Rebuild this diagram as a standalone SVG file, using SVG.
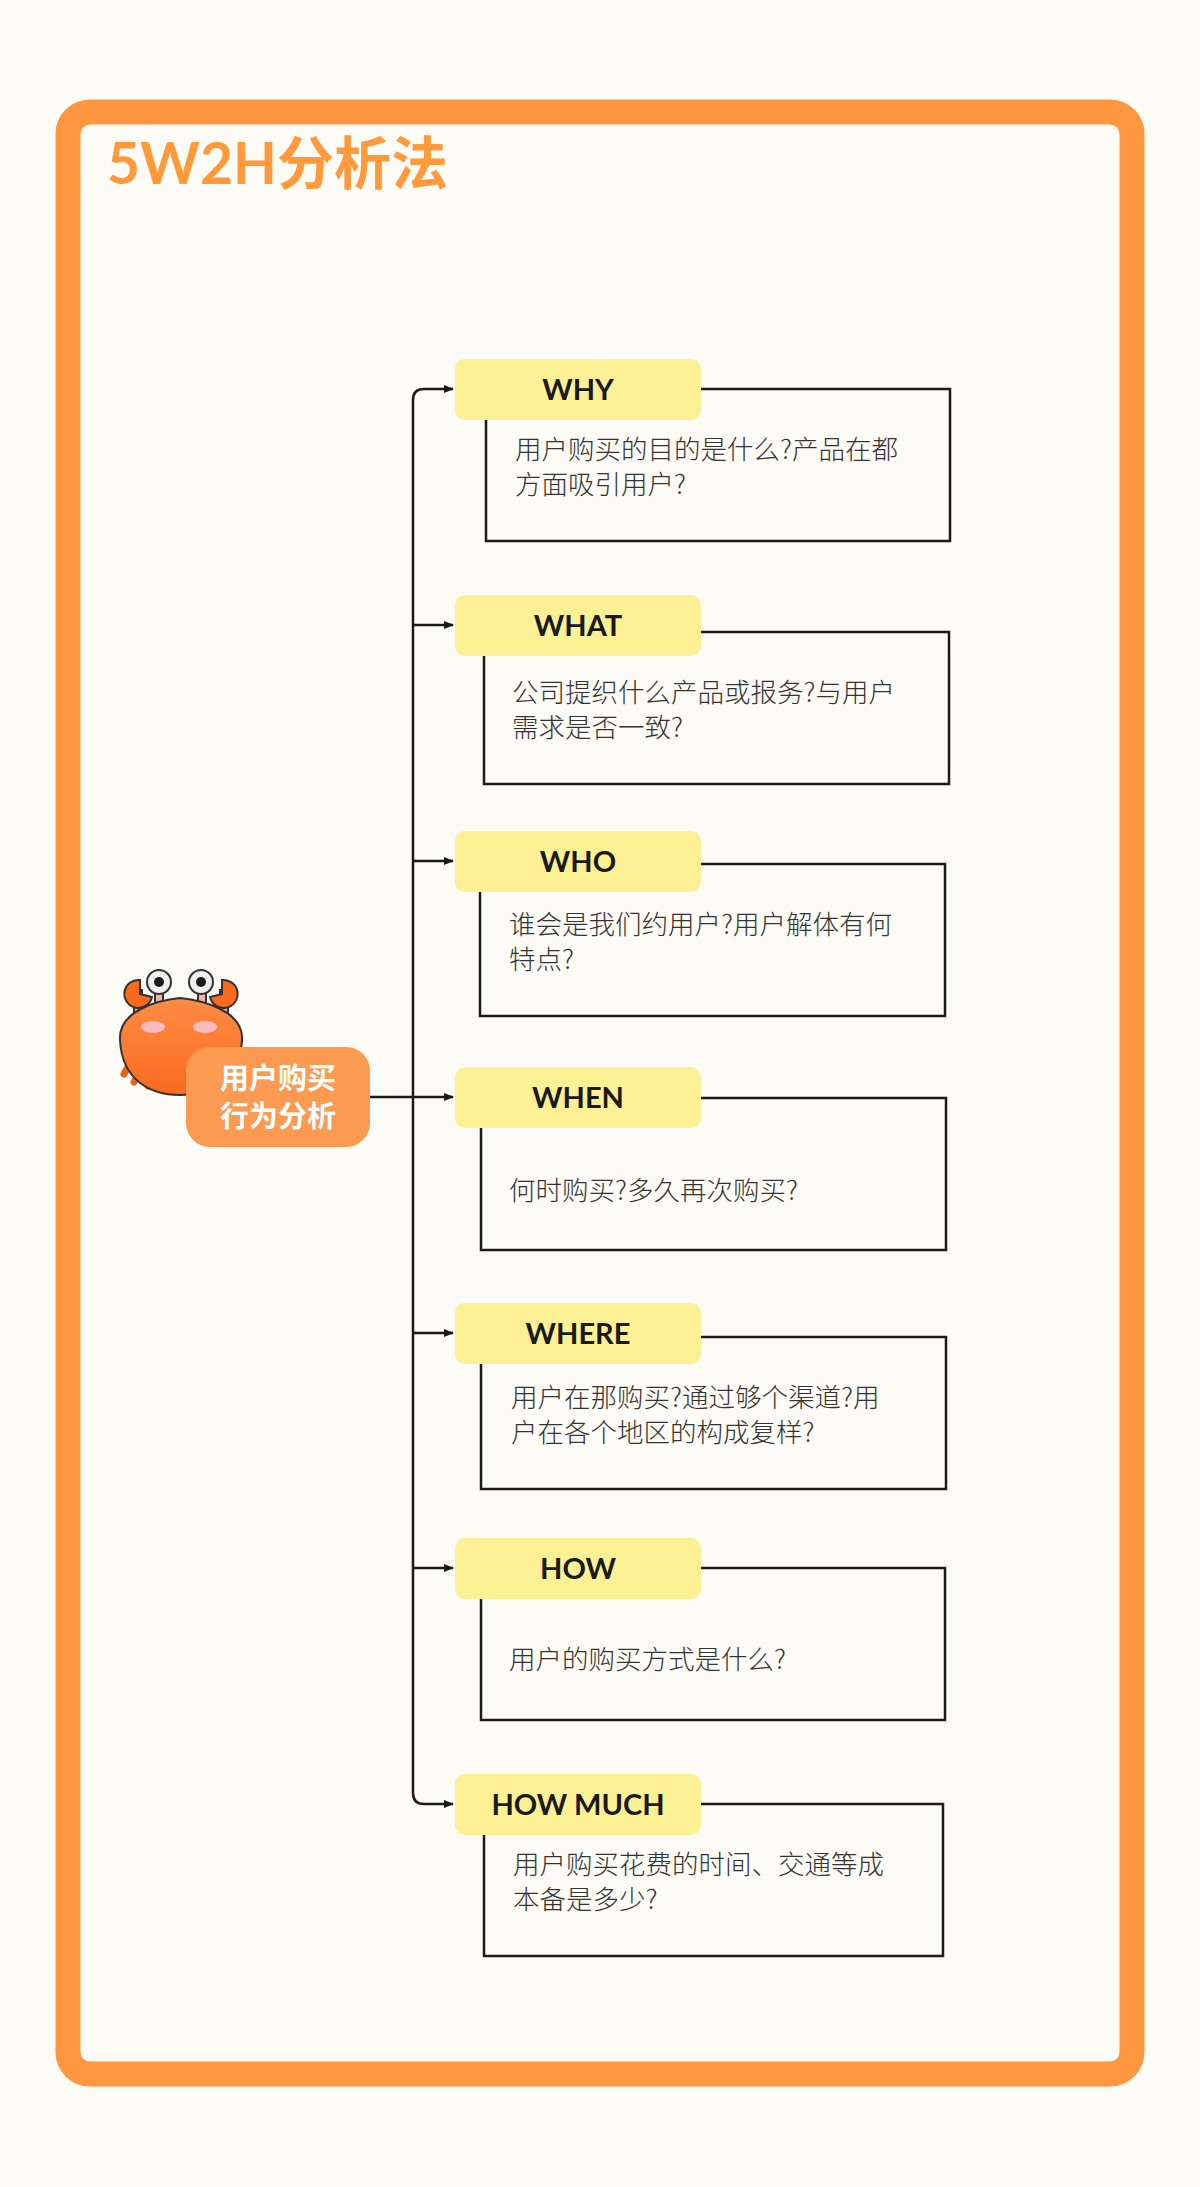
<svg xmlns="http://www.w3.org/2000/svg" width="1200" height="2187" viewBox="0 0 1200 2187">
<defs>
<marker id="ah" markerWidth="10" markerHeight="8" refX="9" refY="4" orient="auto" markerUnits="userSpaceOnUse"><path d="M0,0 L10,4 L0,8 z" fill="#1a1a1a"/></marker>
<linearGradient id="cg" x1="0" y1="0" x2="0" y2="1"><stop offset="0" stop-color="#FF8C45"/><stop offset="1" stop-color="#F96A1E"/></linearGradient>
</defs>
<style>
.lbl{fill:#FCF095}
.lt{font-family:"Lato","Liberation Sans",sans-serif;font-weight:bold;font-size:29px;fill:#1a1a1a;text-anchor:middle}
.box{fill:none;stroke:#1a1a1a;stroke-width:2.5}
.tx{font-family:"Noto Sans CJK SC","Noto Sans",sans-serif;font-size:26.5px;font-weight:300;fill:#333}
.cn{fill:none;stroke:#1a1a1a;stroke-width:2.5}
</style>
<rect width="1200" height="2187" fill="#FDFBF5"/>
<rect x="68" y="112" width="1064" height="1962" rx="22" fill="#FDFBF5" stroke="#FF9640" stroke-width="25"/>
<text x="107" y="184" font-family="Lato,'Noto Sans CJK SC',sans-serif" font-weight="bold" font-size="57" fill="#FF9A3C">5W2H分析法</text>
<g id="connectors">
<path class="cn" d="M370,1097 H413"/>
<path class="cn" d="M413,400 Q413,389 424,389 H453" marker-end="url(#ah)"/>
<path class="cn" d="M413,400 V1793"/>
<path class="cn" d="M413,1793 Q413,1804 424,1804 H453" marker-end="url(#ah)"/>
<path class="cn" d="M413,625 H453" marker-end="url(#ah)"/>
<path class="cn" d="M413,861 H453" marker-end="url(#ah)"/>
<path class="cn" d="M413,1097 H453" marker-end="url(#ah)"/>
<path class="cn" d="M413,1333 H453" marker-end="url(#ah)"/>
<path class="cn" d="M413,1568 H453" marker-end="url(#ah)"/>
</g>
<g id="crab" stroke="#333" stroke-width="2">
<path d="M132,1060 l-8,14 M142,1068 l-8,14 M154,1072 l-6,14" stroke="#E8641A" stroke-width="7" stroke-linecap="round"/>
<rect x="134" y="990" width="8" height="30" fill="#F4B5A4"/>
<rect x="220" y="990" width="8" height="30" fill="#F4B5A4"/>
<rect x="155" y="985" width="8" height="22" fill="#F4B5A4"/>
<rect x="198" y="985" width="8" height="22" fill="#F4B5A4"/>
<path d="M140,980 a14,14 0 1 0 12,17 l-12,-3 z" fill="#F96A1E"/>
<path d="M222,980 a14,14 0 1 1 -12,17 l12,-3 z" fill="#F96A1E"/>
<path d="M120,1040 C118,1010 160,1000 180,998 C200,1000 244,1010 242,1040 C240,1080 210,1095 180,1095 C150,1095 122,1080 120,1040 z" fill="url(#cg)"/>
<ellipse cx="153" cy="1027" rx="12" ry="6" fill="#FBBBC0" stroke="none"/>
<ellipse cx="205" cy="1027" rx="12" ry="6" fill="#FBBBC0" stroke="none"/>
<circle cx="159" cy="982" r="12" fill="#eee"/><circle cx="159" cy="982" r="5" fill="#1a1a1a" stroke="none"/>
<circle cx="201" cy="982" r="12" fill="#eee"/><circle cx="201" cy="982" r="5" fill="#1a1a1a" stroke="none"/>
</g>
<g id="center">
<rect x="186" y="1047" width="184" height="100" rx="24" fill="#FB9A50"/>
<text x="278" y="1089" font-family="'Noto Sans CJK SC',sans-serif" font-weight="bold" font-size="29" fill="#fff" text-anchor="middle">用户购买</text>
<text x="278" y="1127" font-family="'Noto Sans CJK SC',sans-serif" font-weight="bold" font-size="29" fill="#fff" text-anchor="middle">行为分析</text>
</g>
<g id="why"><rect class="box" x="486" y="389" width="464" height="152"/><rect class="lbl" x="455" y="359" width="246" height="61" rx="10"/><text class="lt" x="578" y="400">WHY</text><text class="tx" x="515" y="459">用户购买的目的是什么?产品在都</text><text class="tx" x="515" y="494">方面吸引用户?</text></g>
<g id="what"><rect class="box" x="484" y="632" width="465" height="152"/><rect class="lbl" x="455" y="595" width="246" height="61" rx="10"/><text class="lt" x="578" y="636">WHAT</text><text class="tx" x="512" y="702">公司提织什么产品或报务?与用户</text><text class="tx" x="512" y="737">需求是否一致?</text></g>
<g id="who"><rect class="box" x="480" y="864" width="465" height="152"/><rect class="lbl" x="455" y="831" width="246" height="61" rx="10"/><text class="tx" x="509" y="934">谁会是我们约用户?用户解体有何</text><text class="tx" x="509" y="969">特点?</text><text class="lt" x="578" y="872">WHO</text></g>
<g id="when"><rect class="box" x="481" y="1098" width="465" height="152"/><rect class="lbl" x="455" y="1067" width="246" height="61" rx="10"/><text class="lt" x="578" y="1108">WHEN</text><text class="tx" x="509" y="1200">何时购买?多久再次购买?</text></g>
<g id="where"><rect class="box" x="481" y="1337" width="465" height="152"/><rect class="lbl" x="455" y="1303" width="246" height="61" rx="10"/><text class="lt" x="578" y="1344">WHERE</text><text class="tx" x="511" y="1407">用户在那购买?通过够个渠道?用</text><text class="tx" x="511" y="1442">户在各个地区的构成复样?</text></g>
<g id="how"><rect class="box" x="481" y="1568" width="464" height="152"/><rect class="lbl" x="455" y="1538" width="246" height="61" rx="10"/><text class="lt" x="578" y="1579">HOW</text><text class="tx" x="509" y="1669">用户的购买方式是什么?</text></g>
<g id="howmuch"><rect class="box" x="484" y="1804" width="459" height="152"/><rect class="lbl" x="455" y="1774" width="246" height="61" rx="10"/><text class="lt" x="578" y="1815">HOW MUCH</text><text class="tx" x="513" y="1874">用户购买花费的时间、交通等成</text><text class="tx" x="513" y="1909">本备是多少?</text></g>
</svg>
